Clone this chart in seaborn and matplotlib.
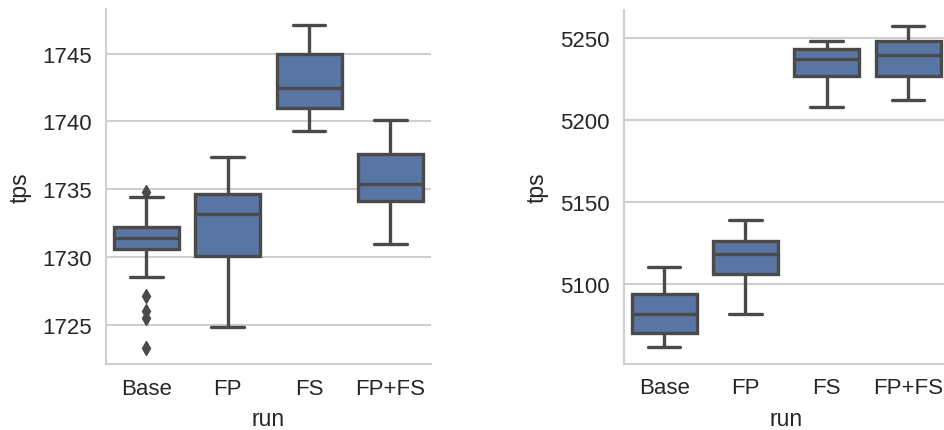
import numpy as np
import pandas as pd
import matplotlib
matplotlib.use("Agg")
import matplotlib.pyplot as plt
import seaborn as sns

runs = ["Base", "FP", "FS", "FP+FS"]

# Left panel (tps values per run)
left_base = [1723.3, 1725.5, 1726.0, 1727.15, 1728.56, 1730.56, 1730.8, 1731.0,
             1731.2, 1731.3, 1731.43, 1731.6, 1731.8, 1732.0, 1732.1, 1732.24,
             1732.6, 1733.2, 1733.9, 1734.4, 1734.8]
left_fp = [1724.85, 1730.04, 1733.18, 1734.67, 1737.34]
left_fs = [1739.29, 1741.02, 1742.5, 1745.0, 1747.1]
left_fpfs = [1730.96, 1734.12, 1735.36, 1737.58, 1740.1]

# Right panel
right_base = [5061.1, 5070.0, 5081.7, 5093.9, 5110.4]
right_fp = [5081.5, 5106.1, 5118.3, 5126.1, 5138.9]
right_fs = [5207.8, 5227.0, 5237.4, 5243.3, 5248.4]
right_fpfs = [5211.9, 5226.8, 5239.5, 5248.4, 5257.3]


def long_df(groups):
    rows = []
    for name, vals in zip(runs, groups):
        for v in vals:
            rows.append({"run": name, "tps": v})
    return pd.DataFrame(rows)


df_left = long_df([left_base, left_fp, left_fs, left_fpfs])
df_right = long_df([right_base, right_fp, right_fs, right_fpfs])

sns.set_theme(style="whitegrid")
plt.rcParams["font.family"] = ["Liberation Sans", "DejaVu Sans"]
plt.rcParams["grid.linewidth"] = 1.5
plt.rcParams["grid.color"] = "#cfcfcf"
plt.rcParams["axes.edgecolor"] = "#cfcfcf"
plt.rcParams["axes.linewidth"] = 1.5

fig = plt.figure(figsize=(9.45, 4.31), dpi=100)
W, H = 945, 431
ax1 = fig.add_axes([105.8 / W, (H - 365) / H, 325.2 / W, 355 / H])
ax2 = fig.add_axes([623.5 / W, (H - 364.5) / H, 325.2 / W, 353.5 / H])

line_c = "#4a4a4a"
for ax, df in [(ax1, df_left), (ax2, df_right)]:
    sns.boxplot(data=df, x="run", y="tps", order=runs, ax=ax, color="#4C72B0",
                saturation=0.75, width=0.8, linecolor=line_c, linewidth=2.4,
                flierprops=dict(marker="d", markerfacecolor=line_c,
                                markeredgecolor=line_c, markersize=7))
    ax.set_xlabel("run", fontsize=16.5, color="#262626", labelpad=6)
    ax.set_ylabel("tps", fontsize=16.5, color="#262626", labelpad=8)
    ax.tick_params(axis="both", labelsize=16, colors="#262626", length=0, pad=10)
    ax.grid(axis="x", visible=False)
    ax.grid(axis="y", visible=True)
    sns.despine(ax=ax)

ax1.set_yticks([1725, 1730, 1735, 1740, 1745])
ax2.set_yticks([5100, 5150, 5200, 5250])

fig.savefig("out.png", dpi=100)
